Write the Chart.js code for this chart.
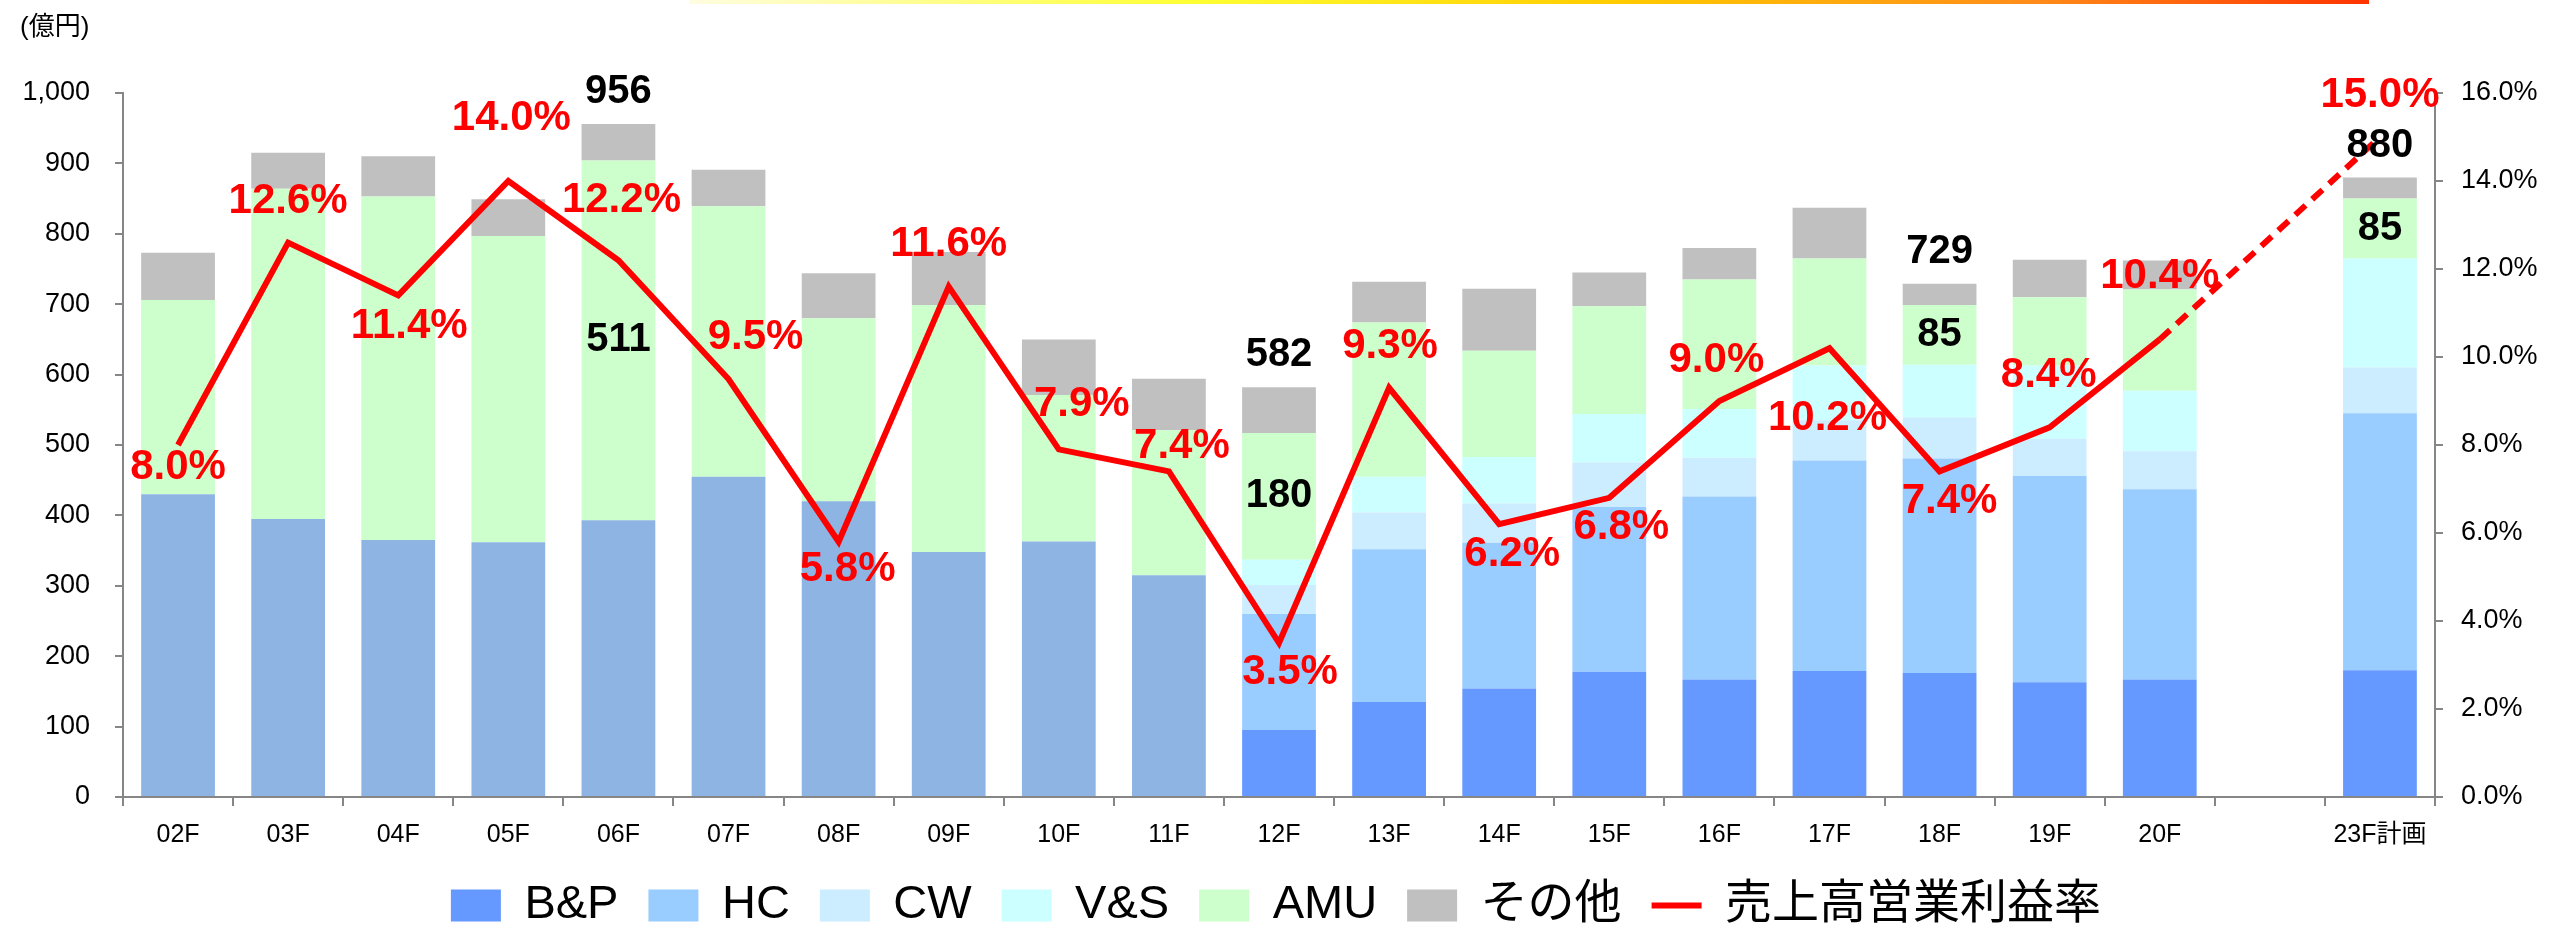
<!DOCTYPE html>
<html>
<head>
<meta charset="utf-8">
<script src="https://cdn.jsdelivr.net/npm/chart.js@4.4.1/dist/chart.umd.min.js"></script>
<style>
  html, body { margin: 0; padding: 0; background: #fff; }
  #wrap { position: relative; width: 2552px; height: 930px; }
  #topbar { position: absolute; left: 689px; top: 0; width: 1680px; height: 4px;
    background: linear-gradient(to right, #fffde0, #ffff33 30%, #ffcc00 55%, #ff8c1a 80%, #ff3300); }
</style>
</head>
<body>
<div id="wrap">
  <canvas id="chart" width="2552" height="930"></canvas>
  <div id="topbar"></div>
</div>
<script>
// 年度
const years = ['02F','03F','04F','05F','06F','07F','08F','09F','10F','11F',
  '12F','13F','14F','15F','16F','17F','18F','19F','20F','','23F計画'];

// 売上高（億円）
const oldSeg = [430,395,365,362,393,455,420,348,363,315, null,null,null,null,null,null,null,null,null,null,null];
const bp     = [null,null,null,null,null,null,null,null,null,null, 95,135,154,178,167,179,176,163,167,null,180];
const hc     = [null,null,null,null,null,null,null,null,null,null, 165,217,207,234,260,299,305,293,270,null,365];
const cw     = [null,null,null,null,null,null,null,null,null,null, 41,52,56,63,55,57,58,53,54,null,65];
const vs     = [null,null,null,null,null,null,null,null,null,null, 36,51,66,69,69,78,75,104,86,null,155];
const amu    = [276,469,488,435,511,384,260,351,208,206, 180,219,151,153,184,152,85,97,144,null,85];
const other  = [67,51,57,52,52,52,64,75,79,73, 65,58,88,48,45,72,30,53,41,null,30];

// 売上高営業利益率（%）
const margin = [8.0,12.6,11.4,14.0,12.2,9.5,5.8,11.6,7.9,7.4,
  3.5,9.3,6.2,6.8,9.0,10.2,7.4,8.4,10.4,null,15.0];

const yTicksMax = 1000;
const y1TicksMax = 16;

// which bars get the total / AMU value written on them
const labelledBars = [4, 10, 16, 20];

// nudge of each % label from its point (px)
const pctNudge = [[0,22],[0,-41],[11,31],[3,-63],[3,-60],[27,-42],[9,28],[0,-42],[23,-45],[13,-25],
  [11,29],[1,-41],[13,30],[12,30],[-3,-41],[-2,70],[10,30],[-1,-52],[0,-63],null,[0,-42]];

const FONT = '"Liberation Sans", Arial, "Noto Sans CJK JP", sans-serif';
const AXIS = '#868686';

const labelPlugin = {
  id: 'labels',
  afterDatasetsDraw(chart) {
    const ctx = chart.ctx;
    const x = chart.scales.x, y = chart.scales.y, y1 = chart.scales.y1;
    ctx.save();

    ctx.fillStyle = '#000';
    ctx.font = '26px ' + FONT;
    ctx.textAlign = 'left';
    ctx.textBaseline = 'middle';
    ctx.fillText('(億円)', 20, 28);

    ctx.textAlign = 'center';
    ctx.font = 'bold 40px ' + FONT;
    labelledBars.forEach(i => {
      const below = [oldSeg, bp, hc, cw, vs].reduce((s, a) => s + (a[i] || 0), 0);
      const total = below + amu[i] + other[i];
      ctx.fillText(String(total), x.getPixelForValue(i), y.getPixelForValue(total) - 32);
      ctx.fillText(String(amu[i]), x.getPixelForValue(i), y.getPixelForValue(below + amu[i] / 2));
    });

    ctx.fillStyle = '#ff0000';
    ctx.font = 'bold 42px ' + FONT;
    margin.forEach((v, i) => {
      if (v === null) return;
      const n = pctNudge[i];
      ctx.fillText(v.toFixed(1) + '%', x.getPixelForValue(i) + n[0], y1.getPixelForValue(v) + n[1]);
    });
    ctx.restore();
  }
};

const barDs = (label, data, color) => ({
  type: 'bar', label, data, backgroundColor: color, borderWidth: 0,
  barPercentage: 0.67, categoryPercentage: 1, order: 1, yAxisID: 'y'
});

const chart = new Chart(document.getElementById('chart'), {
  data: {
    labels: years,
    datasets: [
      barDs('旧区分', oldSeg, '#8eb4e3'),
      barDs('B&P', bp, '#6699ff'),
      barDs('HC', hc, '#99ccff'),
      barDs('CW', cw, '#ccecff'),
      barDs('V&S', vs, '#ccffff'),
      barDs('AMU', amu, '#ccffcc'),
      barDs('その他', other, '#c0c0c0'),
      {
        type: 'line', label: '売上高営業利益率', data: margin, yAxisID: 'y1',
        borderColor: '#ff0000', backgroundColor: '#ff0000', borderWidth: 6,
        pointRadius: 0, tension: 0, spanGaps: true, order: 0,
        segment: { borderDash: c => c.p1DataIndex === 20 ? [14, 9] : undefined }
      }
    ]
  },
  options: {
    responsive: false,
    animation: false,
    devicePixelRatio: 1,
    layout: { padding: { top: 93, left: 0, right: 0, bottom: 0 } },
    plugins: {
      tooltip: { enabled: false },
      legend: {
        position: 'bottom',
        maxHeight: 78,
        labels: {
          usePointStyle: true, pointStyleWidth: 50, boxHeight: 32, padding: 30,
          color: '#000', font: { size: 47, family: FONT },
          generateLabels: c => Chart.defaults.plugins.legend.labels.generateLabels(c).map(it => {
            if (c.data.datasets[it.datasetIndex].type === 'line') {
              it.pointStyle = 'line'; it.lineWidth = 6; it.strokeStyle = '#ff0000';
            } else {
              it.pointStyle = 'rect'; it.lineWidth = 0;
            }
            return it;
          }),
          filter: it => it.text !== '旧区分',
          sort: (a, b) => a.datasetIndex - b.datasetIndex
        }
      }
    },
    scales: {
      x: {
        stacked: true, offset: true,
        grid: { drawOnChartArea: false, tickLength: 9, color: AXIS, lineWidth: 2 },
        border: { color: AXIS, width: 2 },
        ticks: { color: '#000', font: { size: 25, family: FONT }, padding: 14, maxRotation: 0, autoSkip: false },
        afterFit: s => { s.height = 55; }
      },
      y: {
        stacked: true, position: 'left', min: 0, max: yTicksMax,
        grid: { drawOnChartArea: false, tickLength: 8, color: AXIS, lineWidth: 2 },
        border: { color: AXIS, width: 2 },
        ticks: { stepSize: 100, color: '#000', font: { size: 27, family: FONT }, padding: 25,
          callback: v => v.toLocaleString('en-US') },
        afterFit: s => { s.width = 123; }
      },
      y1: {
        position: 'right', min: 0, max: y1TicksMax,
        grid: { drawOnChartArea: false, tickLength: 8, color: AXIS, lineWidth: 2 },
        border: { color: AXIS, width: 2 },
        ticks: { stepSize: 2, color: '#000', font: { size: 27, family: FONT }, padding: 18,
          callback: v => v.toFixed(1) + '%' },
        afterFit: s => { s.width = 117; }
      }
    }
  },
  plugins: [labelPlugin]
});
</script>
</body>
</html>
